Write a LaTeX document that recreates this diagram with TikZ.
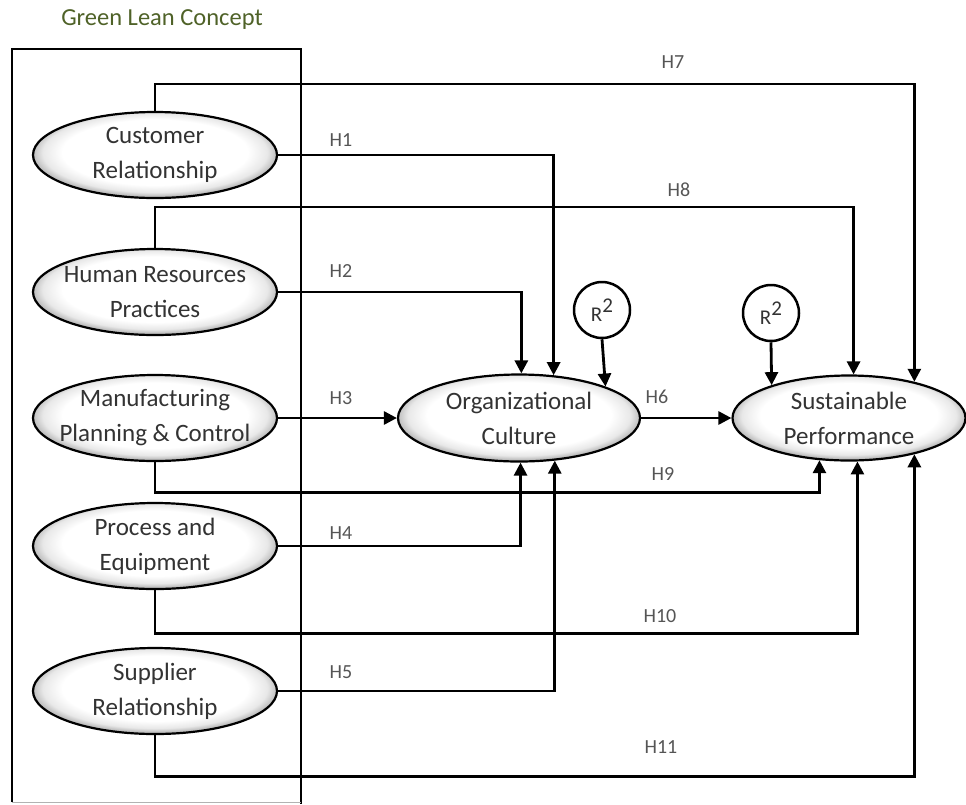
\documentclass[tikz,border=0pt]{standalone}
\usepackage{fontspec}
\setmainfont{Carlito}
\usetikzlibrary{shapes.geometric,arrows.meta}
\pgfdeclareradialshading{ellsh}{\pgfpoint{0bp}{2.5bp}}{color(0bp)=(white); color(19bp)=(white); color(23bp)=(gray!18); color(25bp)=(gray!50); color(50bp)=(gray!50)}
\definecolor{txt}{HTML}{333333}
\definecolor{hlab}{HTML}{555555}
\definecolor{olivetitle}{HTML}{4F6228}
\begin{document}
\begin{tikzpicture}[x=1pt,y=-1pt,
  ell/.style={ellipse, draw=black, line width=2.2pt, shade, shading=ellsh, inner sep=0pt, minimum width=244pt, minimum height=86pt},
  etext/.style={font=\fontsize{25}{35}\selectfont, text=txt, align=center},
  conn/.style={draw=black, line width=2.8pt, -{Triangle[length=13pt,width=13pt]}},
  hl/.style={font=\fontsize{20}{20}\selectfont, text=hlab},
  rsq/.style={circle, draw=black, line width=2.5pt, fill=white, minimum size=56pt, inner sep=0pt, font=\fontsize{21}{21}\selectfont, text=txt}]
\useasboundingbox (0,0) rectangle (966,804);

% title and frame
\node[font=\fontsize{24.5}{24.5}\selectfont, text=olivetitle] (title) at (162,20) {Green Lean Concept};
\draw[line width=2.2pt] (12,802) -- (12,49) -- (301,49) -- (301,804);
\draw[line width=1pt, gray!60] (12,802) -- (301,802);

% left constructs
\node[ell, label={[etext]center:{Customer\\Relationship}}] (cr) at (155,155) {};
\node[ell, label={[etext]center:{Human Resources\\Practices}}] (hr) at (155,292) {};
\node[ell, label={[etext]center:{Manufacturing\\Planning \& Control}}] (mpc) at (155,418) {};
\node[ell, label={[etext]center:{Process and\\Equipment}}] (pe) at (155,546) {};
\node[ell, label={[etext]center:{Supplier\\Relationship}}] (sr) at (155,691) {};

% mediator and outcome
\node[ell, minimum width=242pt, minimum height=87pt, label={[etext]center:{Organizational\\Culture}}] (oc) at (519,418) {};
\node[ell, minimum width=233pt, minimum height=85pt, label={[etext]center:{Sustainable\\Performance}}] (sp) at (849,418) {};

% R2 circles
\node[rsq] (r1) at (602,310) {R\raisebox{0.45em}{2}};
\node[rsq] (r2) at (771,313) {R\raisebox{0.45em}{2}};

% connectors
\draw[conn] (cr.north) -- ++(0,-27) -| (sp.29.6);
\draw[conn] (cr.east) -| (oc.51.8);
\draw[conn] (hr.north) -- ++(0,-41) -| (sp.84.6);
\draw[conn] (hr.east) -| (oc.87.4);
\draw[conn] (mpc.east) -- (oc.west);
\draw[conn] (mpc.south) -- ++(0,30) -| (sp.-125.2);
\draw[conn] (pe.east) -| (oc.-88.7);
\draw[conn] (pe.south) -- ++(0,43) -| (sp.-79.3);
\draw[conn] (sr.east) -| (oc.-50);
\draw[conn] (sr.south) -- ++(0,41) -| (sp.-29);
\draw[conn] (oc.east) -- (sp.west);
\draw[conn] (r1.south) -- (oc.20.9);
\draw[conn] (r2.south) -- (sp.157.9);

% hypothesis labels
\node[hl] (h1) at (341,140) {H1};
\node[hl] (h2) at (341,271) {H2};
\node[hl] (h3) at (341,398) {H3};
\node[hl] (h4) at (341,533) {H4};
\node[hl] (h5) at (341,672) {H5};
\node[hl] (h6) at (657,397) {H6};
\node[hl] (h7) at (673,62) {H7};
\node[hl] (h8) at (679,190) {H8};
\node[hl] (h9) at (663,474) {H9};
\node[hl] (h10) at (660,616) {H10};
\node[hl] (h11) at (661,747) {H11};
\end{tikzpicture}
\end{document}
